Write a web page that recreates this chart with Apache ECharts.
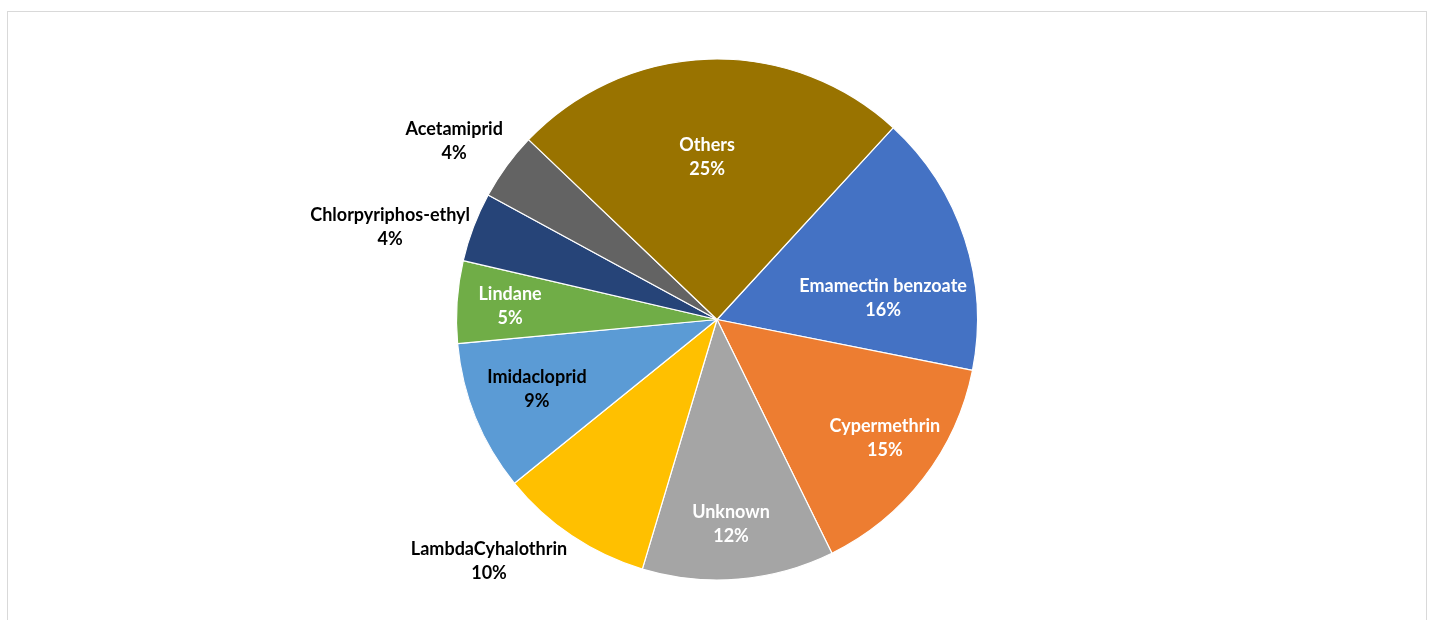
<!DOCTYPE html>
<html>
<head>
<meta charset="utf-8">
<script src="https://cdn.jsdelivr.net/npm/echarts@6/dist/echarts.min.js"></script>
<style>
  html, body { margin: 0; padding: 0; background: #ffffff; }
  #frame { position: absolute; left: 7px; top: 11px; width: 1420px; height: 700px; border: 1px solid #d9d9d9; box-sizing: border-box; pointer-events: none; }
  #chart { position: absolute; left: 0; top: 0; width: 1431px; height: 620px; }
</style>
</head>
<body>
<div id="frame"></div>
<div id="chart"></div>
<script>
// ---- data (clockwise order) ----
const categories = ['Emamectin benzoate', 'Cypermethrin', 'Unknown', 'LambdaCyhalothrin', 'Imidacloprid', 'Lindane', 'Chlorpyriphos-ethyl', 'Acetamiprid', 'Others'];
const shares = [16.3, 14.6, 11.9, 9.55, 9.35, 5.1, 4.3, 4.2, 24.7];

// ---- styling ----
const sliceColors = ['#4472C4', '#ED7D31', '#A5A5A5', '#FFC000', '#5B9BD5', '#70AD47', '#264478', '#636363', '#997300'];
const labelColors = ['#ffffff', '#ffffff', '#ffffff', '#000000', '#000000', '#ffffff', '#000000', '#000000', '#ffffff'];
// label placement: [angle shift from slice bisector (deg, clockwise), distance as fraction of radius]
const labelPlacement = [[10.7, 0.643], [-2.3, 0.789], [0.84, 0.787], [9.5, 1.275], [1.0, 0.741], [-0.15, 0.796], [-5.0, 1.304], [-1.9, 1.22], [-1.6, 0.625]];

const CX = 717, CY = 319.5, R = 260.5;
const FIRST_EDGE = 42.58; // clockwise degrees from 12 o'clock where the first slice begins

const total = shares.reduce((a, b) => a + b, 0);
const midAngles = [];
let acc = FIRST_EDGE;
shares.forEach(v => { const span = v / total * 360; midAngles.push(acc + span / 2); acc += span; });

const chart = echarts.init(document.getElementById('chart'), null, { renderer: 'canvas' });
chart.setOption({
  backgroundColor: 'transparent',
  animation: false,
  series: [{
    type: 'pie',
    center: [CX, CY],
    radius: [0, R],
    startAngle: 90 - FIRST_EDGE,
    clockwise: true,
    avoidLabelOverlap: false,
    itemStyle: { borderColor: '#ffffff', borderWidth: 1.2 },
    label: {
      show: true,
      position: 'inside',
      fontFamily: 'Lato, "Open Sans", sans-serif',
      fontWeight: 'bold',
      fontSize: 18,
      lineHeight: 24,
      align: 'center',
      formatter: p => p.name + '\n' + Math.round(p.percent) + '%'
    },
    labelLine: { show: false },
    labelLayout: p => {
      const i = p.dataIndex;
      const a = (midAngles[i] + labelPlacement[i][0]) * Math.PI / 180;
      const d = labelPlacement[i][1] * R;
      return { x: CX + d * Math.sin(a), y: CY - d * Math.cos(a), align: 'center', verticalAlign: 'middle' };
    },
    data: categories.map((c, i) => ({
      name: c,
      value: shares[i],
      itemStyle: { color: sliceColors[i] },
      label: { color: labelColors[i] }
    }))
  }]
});
</script>
</body>
</html>
